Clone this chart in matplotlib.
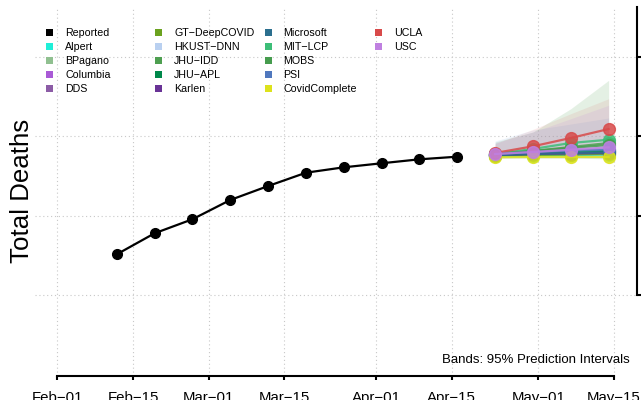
import matplotlib
matplotlib.use("Agg")
import matplotlib.pyplot as plt
import matplotlib.dates as mdates
from matplotlib.patches import Patch
import datetime as dt

plt.rcParams['font.family'] = ['Liberation Sans', 'DejaVu Sans']

# ---------------- data ----------------
reported_dates = ["2021-02-12", "2021-02-19", "2021-02-26", "2021-03-05", "2021-03-12",
                  "2021-03-19", "2021-03-26", "2021-04-02", "2021-04-09", "2021-04-16"]
reported_deaths = [2513, 2778, 2955, 3198, 3374, 3542, 3610, 3661, 3711, 3744]

forecast_dates = ["2021-04-23", "2021-04-30", "2021-05-07", "2021-05-14"]

models = ["Alpert", "BPagano", "Columbia", "DDS", "GT\u2212DeepCOVID", "HKUST\u2212DNN",
          "JHU\u2212IDD", "JHU\u2212APL", "Karlen", "Microsoft", "MIT\u2212LCP", "MOBS",
          "PSI", "CovidComplete", "UCLA", "USC"]
model_colors = ["#1FEFD8", "#90C090", "#A95AD6", "#8C5CA6", "#6BA21F", "#B9D0F0",
                "#4E9F50", "#00884A", "#693396", "#2B6F8E", "#3DBE78", "#469C4E",
                "#5078BE", "#DDE21C", "#D84A4A", "#BF80E0"]

alpert = [3753, 3759, 3765, 3771]
bpagano = [3765, 3778, 3797, 3816]
columbia = [3771, 3791, 3810, 3828]
dds = [3765, 3778, 3791, 3803]
gt_deepcovid = [3759, 3765, 3771, 3778]
hkust_dnn = [3771, 3791, 3810, 3828]
jhu_idd = [3778, 3816, 3866, 3917]
jhu_apl = [3765, 3784, 3803, 3816]
karlen = [3765, 3778, 3784, 3791]
microsoft = [3765, 3778, 3791, 3797]
mit_lcp = [3778, 3841, 3917, 3958]
mobs = [3778, 3816, 3854, 3892]
psi = [3778, 3803, 3822, 3835]
covidcomplete = [3736, 3740, 3740, 3740]
ucla = [3791, 3875, 3980, 4093]
usc = [3778, 3803, 3832, 3862]
forecast_values = [alpert, bpagano, columbia, dds, gt_deepcovid, hkust_dnn, jhu_idd,
                   jhu_apl, karlen, microsoft, mit_lcp, mobs, psi, covidcomplete, ucla, usc]

# 95% prediction interval bands (model, lower, upper)
band_models = ["HKUST\u2212DNN", "JHU\u2212IDD", "UCLA", "USC"]
band_lower = [[3728, 3728, 3728, 3728],
              [3728, 3728, 3728, 3715],
              [3753, 3803, 3879, 3955],
              [3728, 3740, 3740, 3740]]
band_upper = [[3942, 4081, 4156, 4232],
              [3929, 4055, 4349, 4707],
              [3908, 4089, 4286, 4475],
              [3917, 4055, 4223, 4392]]

xtick_dates = ["2021-02-01", "2021-02-15", "2021-03-01", "2021-03-15",
               "2021-04-01", "2021-04-15", "2021-05-01", "2021-05-15"]
xtick_labels = ["Feb\u221201", "Feb\u221215", "Mar\u221201", "Mar\u221215",
                "Apr\u221201", "Apr\u221215", "May\u221201", "May\u221215"]
ytick_values = [2000, 3000, 4000, 5000]

# ---------------- plot ----------------
def d(s):
    return mdates.date2num(dt.datetime.strptime(s, "%Y-%m-%d"))

W, H = 642, 400
fig = plt.figure(figsize=(W / 100, H / 100), dpi=100)
ax = fig.add_axes([35 / W, 24 / H, 602 / W, 369 / H])

x0 = d(xtick_dates[0])
ax.set_xlim(x0 - 4.13, x0 + 107.25)
ax.set_ylim(978, 5632)

fx = [d(s) for s in forecast_dates]
color_of = dict(zip(models, model_colors))
band_alpha = {"HKUST\u2212DNN": 0.25, "JHU\u2212IDD": 0.15, "UCLA": 0.10, "USC": 0.14}
for name, lo, hi in zip(band_models, band_lower, band_upper):
    ax.fill_between(fx, lo, hi, color=color_of[name], alpha=band_alpha[name], lw=0, zorder=2)

ax.plot([d(s) for s in reported_dates], reported_deaths, color="black", lw=1.6,
        marker="o", ms=7, zorder=4)

for name, col, vals in zip(models, model_colors, forecast_values):
    ax.plot(fx, vals, color=col, lw=1.6, marker="o", ms=8.5, alpha=0.85, zorder=5)

# axes styling (R-like)
ax.spines["left"].set_visible(False)
ax.spines["top"].set_visible(False)
ax.spines["bottom"].set_bounds(d(xtick_dates[0]), d(xtick_dates[-1]))
ax.spines["bottom"].set_linewidth(1.5)
ax.spines["right"].set_bounds(ytick_values[0], 5632)
ax.spines["right"].set_linewidth(1.5)

ax.set_xticks([d(s) for s in xtick_dates])
ax.set_xticklabels(xtick_labels)
ax.tick_params(axis="x", direction="out", length=3, width=1.5, labelsize=10.8, pad=7.5)
ax.yaxis.tick_right()
ax.set_yticks(ytick_values)
ax.tick_params(axis="y", direction="out", length=3, width=1.5, labelright=False, labelleft=False)

ax.grid(True, linestyle=(0, (1, 2.5)), color="#c8c8c8", lw=0.8)
ax.set_axisbelow(True)

fig.text(22 / W, 1 - 191 / H, "Total Deaths", rotation=90, ha="center", va="center", fontsize=18.6)
fig.text(630 / W, 1 - 360 / H, "Bands: 95% Prediction Intervals", ha="right", va="center",
         fontsize=9.5)

# legend: 4 columns
labels_all = ["Reported"] + models
colors_all = ["black"] + model_colors
col_x = [46, 155, 264.5, 375]
fs = 7.7
for ci in range(4):
    idx = list(range(ci * 5, min(ci * 5 + 5, len(labels_all))))
    handles = [Patch(facecolor=colors_all[i], edgecolor="none") for i in idx]
    leg = fig.legend(handles, [labels_all[i] for i in idx], loc="upper left",
                     bbox_to_anchor=(col_x[ci] / W, 1 - 28.5 / H), bbox_transform=fig.transFigure,
                     frameon=False, fontsize=fs, borderpad=0, borderaxespad=0,
                     handlelength=0.66, handleheight=0.66, handletextpad=1.12,
                     labelspacing=0.36)

fig.savefig("out.png", dpi=100)
